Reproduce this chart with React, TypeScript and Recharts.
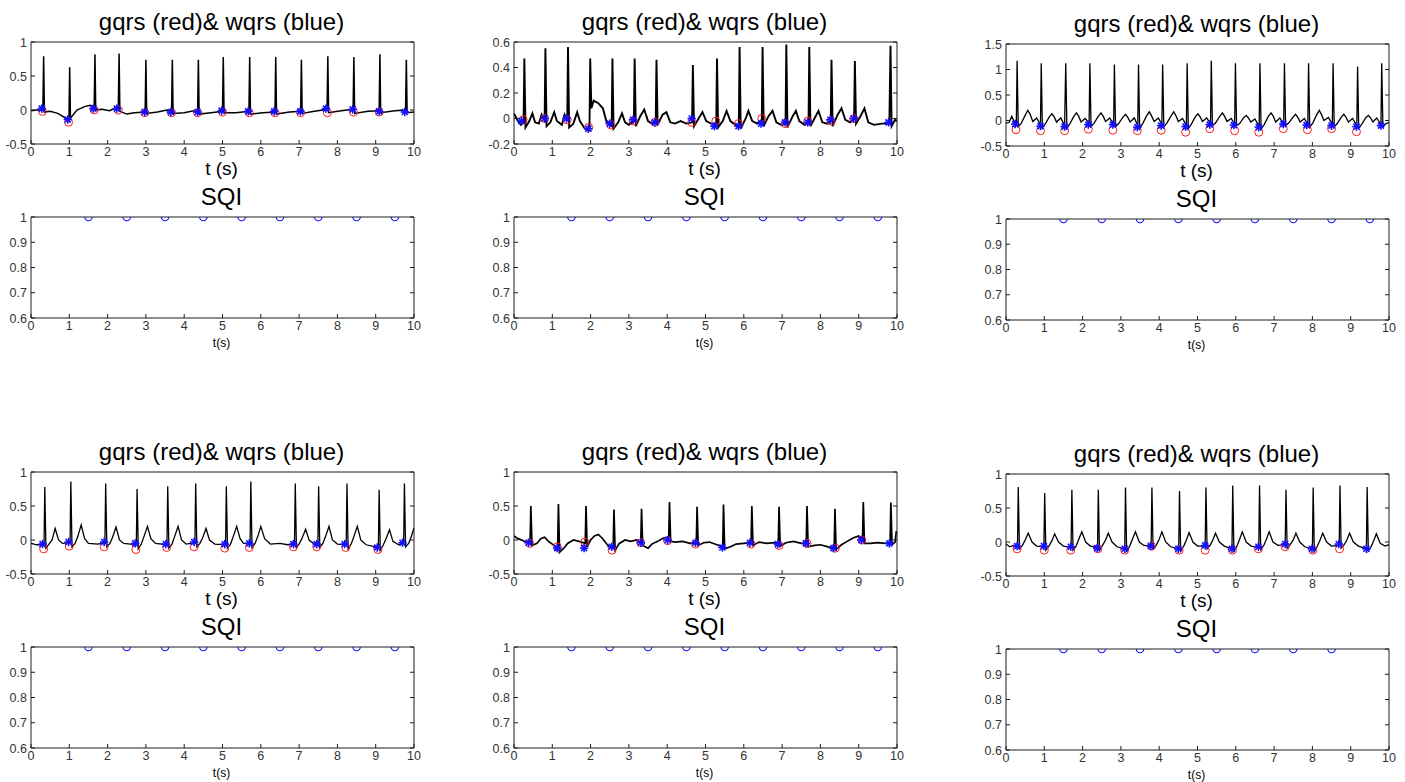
import React from "react";
import { ComposedChart, Line, Scatter, XAxis, YAxis } from "recharts";

type Pt = [number, number];

// ---- axes ----
const xTicks = [0, 1, 2, 3, 4, 5, 6, 7, 8, 9, 10];
const ecgTicksA = [-0.5, 0, 0.5, 1];
const ecgTicksB = [-0.2, 0, 0.2, 0.4, 0.6];
const ecgTicksC = [-0.5, 0, 0.5, 1, 1.5];
const sqiTicks = [0.6, 0.7, 0.8, 0.9, 1];

// ---- panel 1 ----
const p1Beats = [0.33, 1.01, 1.67, 2.3, 3.0, 3.69, 4.37, 5.02, 5.71, 6.39, 7.06, 7.75, 8.43, 9.11, 9.8];
const p1Peaks = [0.79, 0.63, 0.82, 0.83, 0.74, 0.74, 0.74, 0.78, 0.78, 0.78, 0.74, 0.79, 0.78, 0.82, 0.74];
const p1Base: Pt[] = [
  [0, -0.01], [0.15, 0.0], [0.31, 0.0], [0.35, -0.03], [0.5, -0.02], [0.7, -0.05], [0.85, -0.1],
  [0.99, -0.16], [1.03, -0.12], [1.2, 0.0], [1.4, 0.05], [1.55, 0.07], [1.65, 0.05], [1.69, 0.0],
  [1.85, 0.01], [2.05, -0.01], [2.2, 0.03], [2.28, 0.02], [2.32, -0.02], [2.5, -0.06], [2.7, -0.04],
  [2.98, -0.03], [3.02, -0.05], [3.3, -0.03], [3.55, 0.0], [3.67, -0.02], [3.71, -0.05], [4.0, -0.04],
  [4.25, -0.01], [4.35, -0.03], [4.39, -0.06], [4.7, -0.04], [5.0, -0.02], [5.04, -0.04], [5.35, -0.04],
  [5.69, -0.02], [5.73, -0.06], [6.05, -0.04], [6.37, -0.03], [6.41, -0.06], [6.75, -0.03], [7.04, -0.02],
  [7.08, -0.05], [7.4, -0.02], [7.73, 0.01], [7.77, -0.04], [8.1, -0.01], [8.41, 0.01], [8.45, -0.05],
  [8.8, -0.02], [9.09, -0.01], [9.13, -0.04], [9.5, -0.01], [9.78, 0.0], [9.82, -0.04], [10, -0.03],
];
const p1Gqrs: Pt[] = [
  [0.3, -0.02], [0.98, -0.18], [1.65, 0.0], [2.28, 0.0], [2.97, -0.04], [3.67, -0.04], [4.35, -0.04],
  [5.0, -0.03], [5.7, -0.04], [6.37, -0.04], [7.04, -0.04], [7.74, -0.04], [8.42, -0.03], [9.09, -0.03],
];
const p1Wqrs: Pt[] = [
  [0.28, 0.02], [0.96, -0.14], [1.63, 0.02], [2.24, 0.02], [2.97, -0.03], [3.65, -0.03], [4.35, -0.03],
  [4.98, -0.01], [5.67, -0.02], [6.35, -0.02], [7.03, -0.02], [7.7, 0.02], [8.4, 0.01], [9.09, -0.02], [9.76, -0.03],
];

// ---- panel 2 ----
const p2Beats = [0.27, 0.82, 1.41, 1.99, 2.57, 3.15, 3.72, 4.67, 5.3, 5.89, 6.49, 7.11, 7.71, 8.29, 8.9, 9.83];
const p2Peaks = [0.47, 0.55, 0.56, 0.47, 0.47, 0.47, 0.46, 0.42, 0.47, 0.56, 0.56, 0.58, 0.56, 0.46, 0.45, 0.57];
const p2Base: Pt[] = [
  [0, 0.04], [0.1, -0.02], [0.18, -0.05], [0.25, -0.03], [0.3, -0.07], [0.4, -0.02], [0.48, 0.04],
  [0.55, -0.03], [0.65, -0.04], [0.72, 0.03], [0.8, -0.01], [0.85, -0.06], [0.95, -0.03], [1.05, 0.05],
  [1.12, -0.02], [1.25, -0.05], [1.32, 0.03], [1.39, -0.02], [1.44, -0.07], [1.55, -0.04], [1.65, 0.05],
  [1.72, -0.02], [1.85, -0.08], [1.97, -0.09], [2.02, 0.08], [2.08, 0.14], [2.2, 0.12], [2.32, 0.08],
  [2.42, -0.03], [2.55, -0.06], [2.6, -0.08], [2.72, -0.03], [2.82, 0.04], [2.9, -0.03], [3.0, -0.05],
  [3.13, -0.02], [3.18, -0.06], [3.3, 0.02], [3.4, 0.07], [3.5, -0.02], [3.6, -0.04], [3.7, -0.03],
  [3.75, -0.05], [3.88, 0.03], [3.98, 0.05], [4.08, -0.03], [4.2, -0.04], [4.35, -0.02], [4.5, -0.04],
  [4.65, -0.03], [4.7, -0.06], [4.82, 0.0], [4.92, 0.05], [5.02, -0.02], [5.15, -0.04], [5.28, -0.05],
  [5.33, -0.07], [5.45, -0.02], [5.55, 0.06], [5.65, -0.02], [5.78, -0.05], [5.87, -0.06], [5.92, -0.08],
  [6.05, 0.0], [6.12, 0.06], [6.22, -0.02], [6.35, -0.04], [6.47, -0.01], [6.52, -0.06], [6.65, 0.02],
  [6.75, 0.06], [6.85, -0.03], [6.98, -0.05], [7.09, -0.04], [7.14, -0.07], [7.28, 0.02], [7.36, 0.06],
  [7.45, -0.02], [7.58, -0.05], [7.69, -0.03], [7.74, -0.06], [7.88, 0.02], [7.95, 0.06], [8.05, -0.03],
  [8.18, -0.04], [8.27, -0.02], [8.32, -0.06], [8.45, 0.03], [8.55, 0.08], [8.65, -0.01], [8.78, -0.03],
  [8.88, 0.0], [8.93, -0.04], [9.05, 0.02], [9.15, 0.08], [9.25, -0.03], [9.4, -0.05], [9.6, -0.04],
  [9.8, -0.04], [9.86, -0.06], [9.95, -0.01], [10, -0.02],
];
const p2Gqrs: Pt[] = [
  [0.24, -0.01], [0.8, 0.0], [1.39, -0.01], [1.95, -0.07], [2.53, -0.05], [3.11, -0.02], [3.68, -0.03],
  [4.64, -0.03], [5.27, -0.02], [5.86, -0.04], [6.47, 0.0], [7.08, -0.04], [7.67, -0.02], [8.28, -0.02], [8.87, 0.0],
];
const p2Wqrs: Pt[] = [
  [0.19, -0.02], [0.8, 0.0], [1.37, 0.0], [1.94, -0.08], [2.5, -0.04], [3.11, -0.01], [3.68, -0.03],
  [4.64, 0.0], [5.23, -0.06], [5.86, -0.06], [6.45, -0.04], [7.08, -0.03], [7.67, -0.03], [8.26, -0.01],
  [8.87, 0.0], [9.78, -0.03],
];

// ---- panel 3 ----
const p3Beats = [0.29, 0.92, 1.56, 2.19, 2.83, 3.46, 4.09, 4.73, 5.36, 5.99, 6.63, 7.27, 7.9, 8.54, 9.18, 9.81];
const p3Peaks = [1.17, 1.12, 1.12, 1.12, 1.1, 1.1, 1.1, 1.12, 1.17, 1.12, 1.12, 1.12, 1.12, 1.12, 1.06, 1.12];
const p3Base: Pt[] = [
  [0, -0.05], [0.08, -0.04], [0.15, 0.08], [0.22, -0.03], [0.27, -0.06], [0.32, -0.12], [0.4, -0.05],
  [0.5, 0.1], [0.57, 0.2], [0.63, 0.12], [0.7, -0.02], [0.8, 0.05], [0.9, -0.08], [0.95, -0.14], [1.03, -0.06],
  [1.13, 0.07], [1.2, 0.13], [1.26, 0.07], [1.32, -0.03], [1.43, 0.05], [1.53, -0.1], [1.59, -0.15], [1.67, -0.06],
  [1.77, 0.08], [1.84, 0.15], [1.9, 0.08], [1.96, -0.03], [2.07, 0.04], [2.17, -0.05], [2.22, -0.12], [2.3, -0.05],
  [2.41, 0.08], [2.48, 0.15], [2.54, 0.08], [2.6, -0.02], [2.71, 0.05], [2.81, -0.08], [2.86, -0.12], [2.94, -0.06],
  [3.05, 0.06], [3.12, 0.12], [3.18, 0.06], [3.24, -0.03], [3.35, 0.05], [3.44, -0.1], [3.49, -0.15], [3.57, -0.06],
  [3.67, 0.09], [3.74, 0.17], [3.8, 0.09], [3.87, -0.02], [3.98, 0.05], [4.07, -0.08], [4.12, -0.12], [4.2, -0.05],
  [4.31, 0.09], [4.38, 0.17], [4.44, 0.09], [4.5, -0.02], [4.61, 0.04], [4.71, -0.1], [4.76, -0.16], [4.84, -0.07],
  [4.94, 0.07], [5.01, 0.13], [5.07, 0.07], [5.13, -0.02], [5.24, 0.05], [5.34, -0.06], [5.39, -0.1], [5.47, -0.05],
  [5.58, 0.08], [5.65, 0.15], [5.71, 0.08], [5.77, -0.02], [5.88, 0.04], [5.97, -0.07], [6.02, -0.1], [6.1, -0.06],
  [6.2, 0.05], [6.27, 0.1], [6.33, 0.05], [6.39, -0.03], [6.5, 0.03], [6.61, -0.12], [6.66, -0.17], [6.74, -0.08],
  [6.85, 0.08], [6.92, 0.15], [6.98, 0.08], [7.04, -0.03], [7.15, 0.05], [7.25, -0.06], [7.3, -0.1], [7.38, -0.05],
  [7.49, 0.06], [7.56, 0.12], [7.62, 0.06], [7.68, -0.03], [7.79, 0.04], [7.88, -0.08], [7.93, -0.13], [8.01, -0.05],
  [8.11, 0.11], [8.18, 0.2], [8.24, 0.11], [8.3, 0.0], [8.42, 0.06], [8.52, -0.08], [8.57, -0.12], [8.65, -0.06],
  [8.75, 0.06], [8.82, 0.12], [8.88, 0.06], [8.94, -0.03], [9.05, 0.04], [9.16, -0.1], [9.21, -0.15], [9.29, -0.07],
  [9.39, 0.05], [9.46, 0.1], [9.52, 0.05], [9.58, -0.03], [9.68, 0.05], [9.79, -0.08], [9.84, -0.12], [9.92, -0.06],
  [10, -0.04],
];
const p3Gqrs: Pt[] = [
  [0.26, -0.18], [0.9, -0.2], [1.53, -0.2], [2.15, -0.17], [2.79, -0.19], [3.43, -0.2], [4.05, -0.19],
  [4.69, -0.23], [5.32, -0.16], [5.97, -0.2], [6.6, -0.23], [7.24, -0.16], [7.87, -0.18], [8.5, -0.16], [9.15, -0.22],
];
const p3Wqrs: Pt[] = [
  [0.24, -0.07], [0.9, -0.11], [1.53, -0.12], [2.15, -0.08], [2.79, -0.08], [3.43, -0.13], [4.05, -0.1],
  [4.69, -0.12], [5.32, -0.08], [5.95, -0.09], [6.6, -0.13], [7.24, -0.07], [7.85, -0.09], [8.5, -0.1],
  [9.15, -0.12], [9.79, -0.1],
];

// ---- panel 4 ----
const p4Beats = [0.36, 1.04, 1.95, 2.77, 3.57, 4.3, 5.1, 5.74, 6.9, 7.51, 8.25, 9.09, 9.75];
const p4Peaks = [0.78, 0.86, 0.83, 0.75, 0.79, 0.83, 0.79, 0.86, 0.83, 0.79, 0.83, 0.74, 0.83];
const p4Base: Pt[] = [
  [0, -0.05], [0.15, -0.07], [0.34, -0.07], [0.39, -0.12], [0.47, -0.06], [0.55, 0.0], [0.63, 0.17],
  [0.72, 0.0], [0.82, -0.05], [1.02, -0.04], [1.07, -0.1], [1.15, -0.05], [1.22, 0.05], [1.31, 0.22],
  [1.4, 0.02], [1.5, -0.05], [1.75, -0.06], [1.93, -0.04], [1.98, -0.1], [2.06, -0.05], [2.13, 0.04],
  [2.22, 0.19], [2.31, 0.0], [2.42, -0.05], [2.6, -0.06], [2.75, -0.06], [2.8, -0.13], [2.88, -0.06],
  [2.95, 0.05], [3.04, 0.2], [3.13, 0.02], [3.25, -0.05], [3.55, -0.07], [3.6, -0.12], [3.68, -0.06],
  [3.75, 0.05], [3.84, 0.2], [3.93, 0.0], [4.05, -0.06], [4.28, -0.04], [4.33, -0.1], [4.41, -0.05],
  [4.48, 0.03], [4.57, 0.17], [4.66, 0.0], [4.8, -0.06], [5.08, -0.07], [5.13, -0.12], [5.21, -0.06],
  [5.28, 0.05], [5.37, 0.2], [5.46, 0.02], [5.55, -0.05], [5.72, -0.05], [5.77, -0.11], [5.85, -0.05],
  [5.92, 0.05], [6.0, 0.2], [6.1, 0.02], [6.25, -0.06], [6.5, -0.05], [6.7, -0.07], [6.88, -0.06],
  [6.93, -0.11], [7.01, -0.05], [7.08, 0.03], [7.17, 0.16], [7.26, 0.0], [7.4, -0.06], [7.49, -0.06],
  [7.54, -0.11], [7.62, -0.05], [7.69, 0.05], [7.78, 0.2], [7.87, 0.0], [8.0, -0.06], [8.23, -0.07],
  [8.28, -0.13], [8.36, -0.06], [8.43, 0.05], [8.52, 0.2], [8.61, 0.0], [8.75, -0.07], [9.07, -0.11],
  [9.12, -0.15], [9.2, -0.07], [9.27, 0.02], [9.36, 0.15], [9.45, -0.02], [9.6, -0.07], [9.73, -0.04],
  [9.78, -0.1], [9.86, -0.05], [9.93, 0.05], [10, 0.18],
];
const p4Gqrs: Pt[] = [
  [0.33, -0.13], [1.0, -0.09], [1.91, -0.1], [2.74, -0.14], [3.54, -0.11], [4.26, -0.1], [5.06, -0.12],
  [5.7, -0.11], [6.85, -0.1], [7.46, -0.1], [8.22, -0.11], [9.06, -0.14],
];
const p4Wqrs: Pt[] = [
  [0.3, -0.06], [0.98, -0.03], [1.91, -0.03], [2.72, -0.05], [3.52, -0.06], [4.26, -0.03], [5.06, -0.06],
  [5.7, -0.05], [6.85, -0.06], [7.46, -0.06], [8.19, -0.06], [9.04, -0.11], [9.7, -0.04],
];

// ---- panel 5 ----
const p5Beats = [0.44, 1.16, 1.88, 2.61, 3.33, 4.06, 4.78, 5.47, 6.21, 6.92, 7.65, 8.38, 9.12, 9.84];
const p5Peaks = [0.5, 0.53, 0.5, 0.45, 0.46, 0.56, 0.49, 0.52, 0.5, 0.49, 0.5, 0.46, 0.56, 0.55];
const p5Base: Pt[] = [
  [0, 0.06], [0.1, 0.02], [0.2, 0.0], [0.3, -0.03], [0.42, -0.04], [0.47, -0.08], [0.6, -0.05],
  [0.7, 0.02], [0.8, 0.04], [0.9, -0.02], [1.0, -0.06], [1.1, -0.1], [1.14, -0.1], [1.19, -0.18],
  [1.3, -0.12], [1.4, -0.05], [1.55, 0.0], [1.7, -0.02], [1.86, -0.05], [1.91, -0.1], [2.0, 0.0],
  [2.1, 0.06], [2.2, 0.08], [2.3, 0.03], [2.45, -0.08], [2.59, -0.12], [2.64, -0.15], [2.75, -0.05],
  [2.9, 0.0], [3.05, -0.02], [3.2, 0.0], [3.31, -0.04], [3.36, -0.08], [3.5, -0.12], [3.6, -0.06],
  [3.75, -0.02], [3.9, 0.03], [4.04, 0.04], [4.09, -0.02], [4.2, -0.03], [4.4, -0.02], [4.6, -0.05],
  [4.76, -0.05], [4.81, -0.08], [4.95, -0.04], [5.1, -0.03], [5.3, -0.07], [5.45, -0.1], [5.5, -0.13],
  [5.65, -0.1], [5.8, -0.06], [6.0, -0.05], [6.19, -0.04], [6.24, -0.08], [6.4, -0.03], [6.6, -0.05],
  [6.8, -0.04], [6.9, -0.06], [6.95, -0.09], [7.1, -0.04], [7.3, -0.02], [7.5, -0.05], [7.63, -0.05],
  [7.68, -0.1], [7.85, -0.08], [8.0, -0.07], [8.2, -0.1], [8.36, -0.12], [8.41, -0.14], [8.55, -0.07],
  [8.7, -0.02], [8.85, 0.03], [9.0, 0.06], [9.1, 0.01], [9.15, -0.05], [9.3, -0.05], [9.5, -0.04],
  [9.7, -0.05], [9.82, -0.05], [9.87, -0.07], [9.95, -0.03], [9.98, 0.12], [10, 0.12],
];
const p5Gqrs: Pt[] = [
  [0.41, -0.05], [1.13, -0.1], [1.85, -0.03], [2.56, -0.15], [3.31, -0.04], [4.01, -0.01], [4.74, -0.06],
  [6.19, -0.06], [6.92, -0.08], [7.65, -0.05], [8.39, -0.12], [9.08, 0.0],
];
const p5Wqrs: Pt[] = [
  [0.38, -0.04], [1.13, -0.12], [1.83, -0.12], [2.55, -0.1], [3.31, -0.04], [4.01, 0.0], [4.74, -0.04],
  [5.44, -0.11], [6.16, -0.04], [6.89, -0.06], [7.62, -0.05], [8.34, -0.12], [9.07, 0.0], [9.8, -0.05],
];

// ---- panel 6 ----
const p6Beats = [0.32, 1.01, 1.72, 2.41, 3.12, 3.81, 4.53, 5.22, 5.92, 6.62, 7.31, 8.02, 8.72, 9.43];
const p6Peaks = [0.81, 0.72, 0.77, 0.77, 0.8, 0.8, 0.75, 0.8, 0.83, 0.83, 0.77, 0.8, 0.83, 0.81];
const p6Base: Pt[] = [
  [0, -0.03], [0.1, -0.07], [0.2, -0.05], [0.3, -0.07], [0.35, -0.1], [0.43, -0.05], [0.5, 0.03],
  [0.58, 0.13], [0.68, 0.0], [0.8, -0.06], [0.99, -0.07], [1.04, -0.12], [1.12, -0.06], [1.2, 0.02],
  [1.27, 0.12], [1.37, 0.0], [1.5, -0.06], [1.7, -0.08], [1.75, -0.12], [1.83, -0.06], [1.9, 0.04],
  [1.98, 0.15], [2.08, 0.0], [2.2, -0.06], [2.39, -0.08], [2.44, -0.12], [2.52, -0.05], [2.6, 0.03],
  [2.67, 0.13], [2.77, 0.0], [2.9, -0.07], [3.1, -0.1], [3.15, -0.13], [3.23, -0.06], [3.3, 0.04],
  [3.38, 0.15], [3.48, 0.0], [3.6, -0.05], [3.79, -0.06], [3.84, -0.1], [3.92, -0.05], [4.0, 0.04],
  [4.07, 0.15], [4.17, 0.0], [4.3, -0.07], [4.51, -0.1], [4.56, -0.13], [4.64, -0.06], [4.71, 0.03],
  [4.78, 0.14], [4.88, 0.0], [5.0, -0.06], [5.2, -0.06], [5.25, -0.1], [5.33, -0.05], [5.4, 0.03],
  [5.47, 0.13], [5.57, 0.0], [5.7, -0.06], [5.9, -0.1], [5.95, -0.13], [6.03, -0.06], [6.1, 0.04],
  [6.17, 0.15], [6.27, 0.0], [6.4, -0.06], [6.6, -0.08], [6.65, -0.11], [6.73, -0.05], [6.8, 0.04],
  [6.87, 0.15], [6.97, 0.0], [7.1, -0.05], [7.29, -0.04], [7.34, -0.09], [7.42, -0.04], [7.5, 0.03],
  [7.57, 0.13], [7.67, 0.0], [7.8, -0.07], [8.0, -0.1], [8.05, -0.14], [8.13, -0.06], [8.2, 0.03],
  [8.27, 0.13], [8.37, 0.0], [8.5, -0.06], [8.7, -0.05], [8.75, -0.09], [8.83, -0.04], [8.9, 0.03],
  [8.97, 0.13], [9.07, 0.0], [9.2, -0.06], [9.41, -0.1], [9.46, -0.13], [9.54, -0.06], [9.6, 0.02],
  [9.67, 0.12], [9.77, -0.02], [9.9, -0.06], [10, -0.04],
];
const p6Gqrs: Pt[] = [
  [0.29, -0.1], [1.0, -0.12], [1.69, -0.12], [2.4, -0.1], [3.1, -0.12], [3.8, -0.06], [4.52, -0.12],
  [5.2, -0.12], [5.91, -0.12], [6.59, -0.1], [7.29, -0.07], [8.01, -0.12], [8.71, -0.1],
];
const p6Wqrs: Pt[] = [
  [0.29, -0.06], [0.99, -0.06], [1.69, -0.07], [2.38, -0.09], [3.1, -0.1], [3.78, -0.06], [4.5, -0.1],
  [5.2, -0.05], [5.9, -0.1], [6.59, -0.07], [7.29, -0.03], [7.99, -0.1], [8.69, -0.03], [9.41, -0.1],
];

// ---- SQI ----
const sqiTimes9 = [1.5, 2.5, 3.5, 4.5, 5.5, 6.5, 7.5, 8.5, 9.5];
const sqiScores9 = [1, 1, 1, 1, 1, 1, 1, 1, 1];
const sqiTimes8 = [1.5, 2.5, 3.5, 4.5, 5.5, 6.5, 7.5, 8.5];
const sqiScores8 = [1, 1, 1, 1, 1, 1, 1, 1];

// ---- look ----
const PLOT_W = 383;
const ECG_H = 102;
const SQI_H = 101;
const AX_L = 40;
const AX_R = 8;
const AX_T = 8;
const AX_B = 22;
const INK = "#1c1c1c";
const LABEL = "#333";
const RED = "#ff1a1a";
const BLUE = "#1010ff";
const FONT = '"Liberation Sans", Arial, Helvetica, sans-serif';
const TICK_FONT = '"Liberation Sans Narrow", "Liberation Sans", Arial, sans-serif';

const toPts = (pts: Pt[]) => pts.map(([t, v]) => ({ t, v }));

const buildTrace = (base: Pt[], beats: number[], peaks: number[]) =>
  [...toPts(base), ...beats.map((t, i) => ({ t, v: peaks[i] }))].sort((a, b) => a.t - b.t);

const fmt = (v: number) => String(v);

const bottomTick = (p: any) => (
  <g>
    <line x1={p.x} x2={p.x} y1={p.y} y2={p.y - 4} stroke={INK} />
    <text x={p.x} y={p.y + 12} textAnchor="middle" fontSize={12.5} fontFamily={TICK_FONT} fill={LABEL}>
      {fmt(p.payload.value)}
    </text>
  </g>
);
const topTick = (p: any) => <line x1={p.x} x2={p.x} y1={p.y} y2={p.y + 4} stroke={INK} />;
const leftTick = (p: any) => (
  <g>
    <line x1={p.x} x2={p.x + 4} y1={p.y} y2={p.y} stroke={INK} />
    <text x={p.x - 4} y={p.y} dy="0.36em" textAnchor="end" fontSize={12.5} fontFamily={TICK_FONT} fill={LABEL}>
      {fmt(p.payload.value)}
    </text>
  </g>
);
const rightTick = (p: any) => <line x1={p.x} x2={p.x - 4} y1={p.y} y2={p.y} stroke={INK} />;

const RedCircle = (p: any) => <circle cx={p.cx} cy={p.cy} r={4} fill="none" stroke={RED} strokeWidth={1} />;
const BlueCircle = (p: any) => <circle cx={p.cx} cy={p.cy} r={3.7} fill="none" stroke={BLUE} strokeWidth={1.1} />;
const BlueStar = (p: any) => {
  const { cx, cy } = p;
  const a = 4.2;
  const d = 3;
  return (
    <g stroke={BLUE} strokeWidth={1.6}>
      <line x1={cx - a} x2={cx + a} y1={cy} y2={cy} />
      <line x1={cx} x2={cx} y1={cy - a} y2={cy + a} />
      <line x1={cx - d} x2={cx + d} y1={cy - d} y2={cy + d} />
      <line x1={cx - d} x2={cx + d} y1={cy + d} y2={cy - d} />
    </g>
  );
};

function Box({
  left,
  top,
  plotH,
  yDomain,
  yTicks,
  children,
}: {
  left: number;
  top: number;
  plotH: number;
  yDomain: [number, number];
  yTicks: number[];
  children: React.ReactNode;
}) {
  return (
    <div style={{ position: "absolute", left: left - AX_L + 0.5, top: top - AX_T + 0.5 }}>
      <ComposedChart
        width={AX_L + PLOT_W + AX_R}
        height={AX_T + plotH + AX_B}
        margin={{ top: 0, right: 0, bottom: 0, left: 0 }}
      >
        <XAxis
          type="number"
          dataKey="t"
          domain={[0, 10]}
          ticks={xTicks}
          interval={0}
          height={AX_B}
          tickSize={0}
          tickMargin={0}
          tickLine={false}
          axisLine={{ stroke: INK }}
          tick={bottomTick}
          allowDataOverflow
        />
        <XAxis
          xAxisId="top"
          orientation="top"
          type="number"
          domain={[0, 10]}
          ticks={xTicks}
          interval={0}
          height={AX_T}
          tickSize={0}
          tickMargin={0}
          tickLine={false}
          axisLine={{ stroke: INK }}
          tick={topTick}
          allowDataOverflow
        />
        <YAxis
          type="number"
          dataKey="v"
          domain={yDomain}
          ticks={yTicks}
          interval={0}
          width={AX_L}
          tickSize={0}
          tickMargin={0}
          tickLine={false}
          axisLine={{ stroke: INK }}
          tick={leftTick}
          allowDataOverflow
        />
        <YAxis
          yAxisId="right"
          orientation="right"
          type="number"
          domain={yDomain}
          ticks={yTicks}
          interval={0}
          width={AX_R}
          tickSize={0}
          tickMargin={0}
          tickLine={false}
          axisLine={{ stroke: INK }}
          tick={rightTick}
          allowDataOverflow
        />
        {children}
      </ComposedChart>
    </div>
  );
}

function EcgPanel(props: {
  left: number;
  top: number;
  yDomain: [number, number];
  yTicks: number[];
  base: Pt[];
  beats: number[];
  peaks: number[];
  gqrs: Pt[];
  wqrs: Pt[];
  lineWidth: number;
}) {
  const trace = buildTrace(props.base, props.beats, props.peaks);
  return (
    <Box left={props.left} top={props.top} plotH={ECG_H} yDomain={props.yDomain} yTicks={props.yTicks}>
      <Line
        data={trace}
        dataKey="v"
        type="linear"
        stroke="#000"
        strokeWidth={props.lineWidth}
        dot={false}
        activeDot={false}
        isAnimationActive={false}
      />
      <Scatter data={toPts(props.gqrs)} shape={RedCircle} isAnimationActive={false} />
      <Scatter data={toPts(props.wqrs)} shape={BlueStar} isAnimationActive={false} />
    </Box>
  );
}

function SqiPanel(props: { left: number; top: number; times: number[]; scores: number[] }) {
  const pts = props.times.map((t, i) => ({ t, v: props.scores[i] }));
  return (
    <Box left={props.left} top={props.top} plotH={SQI_H} yDomain={[0.6, 1]} yTicks={sqiTicks}>
      <Scatter data={pts} shape={BlueCircle} isAnimationActive={false} />
    </Box>
  );
}

const COL_X = [30, 513, 1005];
const COL_DY = [0, 0, 2];
const ECG_TOP = [41, 471];
const SQI_TOP = [216, 646];

const panels = [
  { base: p1Base, beats: p1Beats, peaks: p1Peaks, gqrs: p1Gqrs, wqrs: p1Wqrs, dom: [-0.5, 1] as [number, number], ticks: ecgTicksA, lw: 1.5, sqiT: sqiTimes9, sqiV: sqiScores9 },
  { base: p2Base, beats: p2Beats, peaks: p2Peaks, gqrs: p2Gqrs, wqrs: p2Wqrs, dom: [-0.2, 0.6] as [number, number], ticks: ecgTicksB, lw: 1.9, sqiT: sqiTimes9, sqiV: sqiScores9 },
  { base: p3Base, beats: p3Beats, peaks: p3Peaks, gqrs: p3Gqrs, wqrs: p3Wqrs, dom: [-0.5, 1.5] as [number, number], ticks: ecgTicksC, lw: 1.3, sqiT: sqiTimes9, sqiV: sqiScores9 },
  { base: p4Base, beats: p4Beats, peaks: p4Peaks, gqrs: p4Gqrs, wqrs: p4Wqrs, dom: [-0.5, 1] as [number, number], ticks: ecgTicksA, lw: 1.3, sqiT: sqiTimes9, sqiV: sqiScores9 },
  { base: p5Base, beats: p5Beats, peaks: p5Peaks, gqrs: p5Gqrs, wqrs: p5Wqrs, dom: [-0.5, 1] as [number, number], ticks: ecgTicksA, lw: 1.7, sqiT: sqiTimes9, sqiV: sqiScores9 },
  { base: p6Base, beats: p6Beats, peaks: p6Peaks, gqrs: p6Gqrs, wqrs: p6Wqrs, dom: [-0.5, 1] as [number, number], ticks: ecgTicksA, lw: 1.3, sqiT: sqiTimes8, sqiV: sqiScores8 },
];

export default function App() {
  return (
    <div style={{ position: "absolute", left: 0, top: 0, width: 1405, height: 782, background: "#fff" }}>
      {panels.map((p, i) => {
        const row = Math.floor(i / 3);
        const col = i % 3;
        const x = COL_X[col];
        const ecgTop = ECG_TOP[row] + COL_DY[col];
        const sqiTop = SQI_TOP[row] + COL_DY[col];
        return (
          <React.Fragment key={i}>
            <EcgPanel
              left={x}
              top={ecgTop}
              yDomain={p.dom}
              yTicks={p.ticks}
              base={p.base}
              beats={p.beats}
              peaks={p.peaks}
              gqrs={p.gqrs}
              wqrs={p.wqrs}
              lineWidth={p.lw}
            />
            <SqiPanel left={x} top={sqiTop} times={p.sqiT} scores={p.sqiV} />
          </React.Fragment>
        );
      })}
      <svg
        width={1405}
        height={782}
        style={{ position: "absolute", left: 0, top: 0, pointerEvents: "none" }}
      >
        {panels.map((_, i) => {
          const row = Math.floor(i / 3);
          const col = i % 3;
          const cx = COL_X[col] + PLOT_W / 2;
          const ecgTop = ECG_TOP[row] + COL_DY[col];
          const sqiTop = SQI_TOP[row] + COL_DY[col];
          return (
            <g key={i} fontFamily={FONT} fill="#000" textAnchor="middle">
              <text x={cx} y={ecgTop - 11} fontSize={24}>gqrs (red)&amp; wqrs (blue)</text>
              <text x={cx} y={ecgTop + ECG_H + 32} fontSize={19}>t (s)</text>
              <text x={cx} y={sqiTop - 11} fontSize={24}>SQI</text>
              <text x={cx} y={sqiTop + SQI_H + 30} fontSize={12}>t(s)</text>
            </g>
          );
        })}
      </svg>
    </div>
  );
}
